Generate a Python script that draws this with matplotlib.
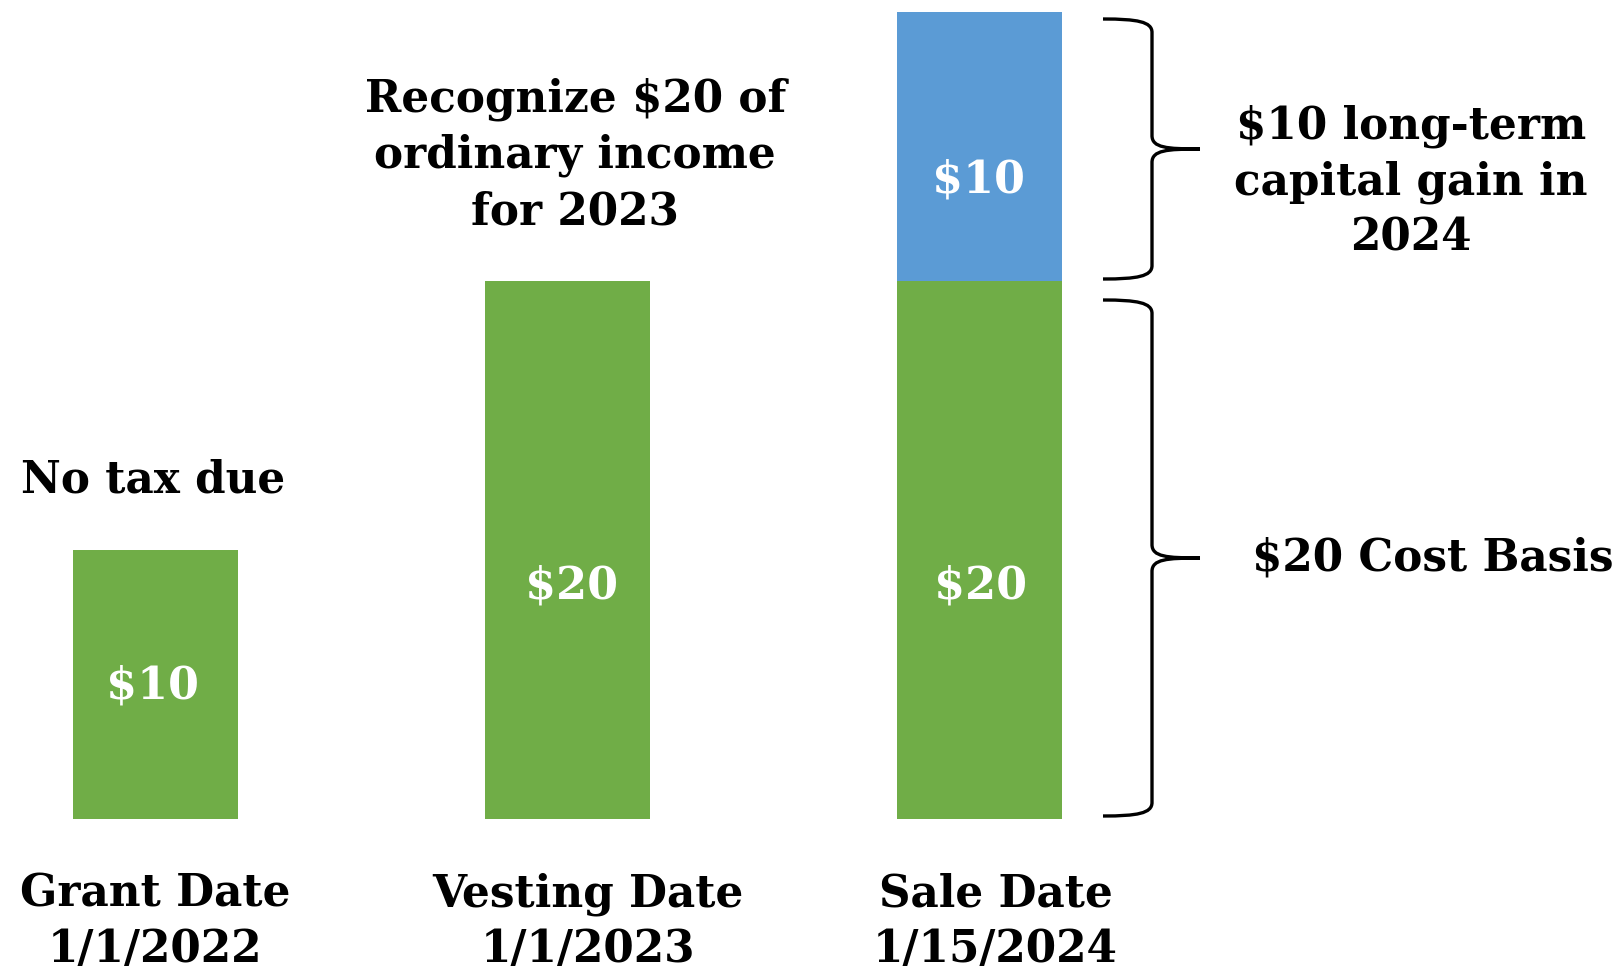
import matplotlib
matplotlib.use("Agg")
import matplotlib.pyplot as plt
from matplotlib.path import Path
from matplotlib.patches import PathPatch

# ---- data ----
categories = ["Grant Date\n1/1/2022", "Vesting Date\n1/1/2023", "Sale Date\n1/15/2024"]
cost_basis = [10, 20, 20]
capital_gain = [0, 0, 10]
basis_labels = ["$10", "$20", "$20"]
gain_labels = ["", "", "$10"]
notes = ["No tax due", "Recognize $20 of\nordinary income\nfor 2023", ""]
brace_gain_text = "$10 long-term\ncapital gain in\n2024"
brace_basis_text = "$20 Cost Basis"

GREEN = "#70AD47"
BLUE = "#5B9BD5"
FONT = "DejaVu Serif"
FS = 31.5
LS = 1.38

fig = plt.figure(figsize=(16.2, 9.73), dpi=100)
ax = fig.add_axes([0, 0, 1, 1])
ax.set_axis_off()

# pixel -> data mapping setup
px_per_x = 412.0
px_per_y = 26.9
x0_px = 155.0
base_px_from_bottom = 973 - 819
ax.set_xlim(-x0_px / px_per_x, (1620 - x0_px) / px_per_x)
ax.set_ylim(-base_px_from_bottom / px_per_y, (973 - base_px_from_bottom) / px_per_y)

xs = list(range(len(categories)))
width = 165 / px_per_x
ax.bar(xs, cost_basis, width=width, color=GREEN, linewidth=0)
ax.bar(xs, capital_gain, width=width, bottom=cost_basis, color=BLUE, linewidth=0)

# value labels inside bars
label_dx = [-0.005, 0.012, 0.005]
for i, (v, lab) in enumerate(zip(cost_basis, basis_labels)):
    y = v / 2 - (1.35 if v > 10 else 0.05)
    ax.text(i + label_dx[i], y, lab, ha="center", va="center", color="white",
            fontsize=32, fontweight="bold", family=FONT)
for i, (b, g, lab) in enumerate(zip(cost_basis, capital_gain, gain_labels)):
    if g:
        ax.text(i, b + g / 2 - 1.25, lab, ha="center", va="center", color="white",
                fontsize=32, fontweight="bold", family=FONT)

# notes above bars
ax.text(0 - 0.005, cost_basis[0] + 2.6, notes[0], ha="center", va="center",
        fontsize=FS, fontweight="bold", family=FONT)
ax.text(1 + 0.02, cost_basis[1] + 4.68, notes[1], ha="center", va="center",
        fontsize=FS, fontweight="bold", family=FONT, linespacing=LS)

# category labels
label_offsets = [0.0, 0.05, 0.04]
for i, c in enumerate(categories):
    ax.text(i + label_offsets[i], -3.82, c, ha="center", va="center",
            fontsize=FS, fontweight="bold", family=FONT, linespacing=LS)


def brace(ax, xl, xv, xt, ytop, ybot, ry=0.5):
    ymid = (ytop + ybot) / 2
    dx = xv - xl
    verts = [
        (xl, ytop),
        (xl + dx * 0.7, ytop), (xv, ytop - ry * 0.2), (xv, ytop - ry),
        (xv, ymid + ry),
        (xv, ymid + ry * 0.1), (xv + (xt - xv) * 0.3, ymid), (xt, ymid),
        (xv + (xt - xv) * 0.3, ymid), (xv, ymid - ry * 0.1), (xv, ymid - ry),
        (xv, ybot + ry),
        (xv, ybot + ry * 0.2), (xl + dx * 0.7, ybot), (xl, ybot),
    ]
    codes = [Path.MOVETO,
             Path.CURVE4, Path.CURVE4, Path.CURVE4,
             Path.LINETO,
             Path.CURVE4, Path.CURVE4, Path.CURVE4,
             Path.CURVE4, Path.CURVE4, Path.CURVE4,
             Path.LINETO,
             Path.CURVE4, Path.CURVE4, Path.CURVE4]
    ax.add_patch(PathPatch(Path(verts, codes), facecolor="none",
                           edgecolor="black", linewidth=2.4))


def px2x(px):
    return (px - x0_px) / px_per_x


def py2y(py):
    return (819 - py) / px_per_y


brace(ax, px2x(1103), px2x(1152), px2x(1200), py2y(19), py2y(279))
brace(ax, px2x(1103), px2x(1152), px2x(1200), py2y(300), py2y(816))

ax.text(px2x(1411), py2y(182), brace_gain_text, ha="center", va="center",
        fontsize=FS, fontweight="bold", family=FONT, linespacing=LS)
ax.text(px2x(1433), py2y(558), brace_basis_text, ha="center", va="center",
        fontsize=FS, fontweight="bold", family=FONT)

fig.savefig("out.png", dpi=100)
